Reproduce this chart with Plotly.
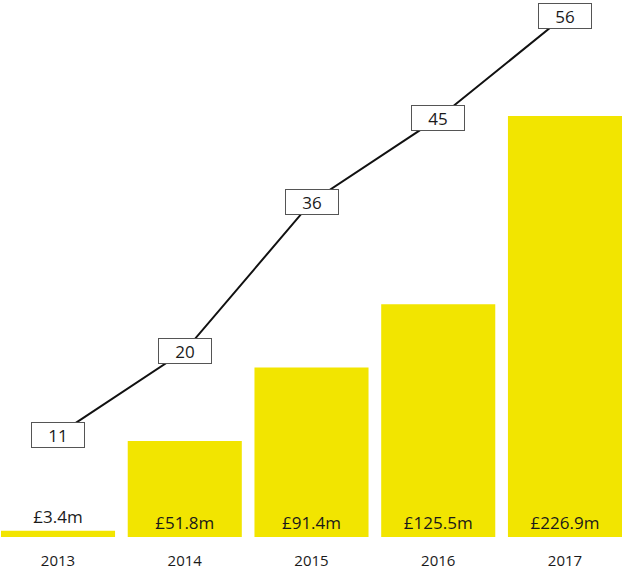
import plotly.graph_objects as go

years = ['2013', '2014', '2015', '2016', '2017']
funding = [3.4, 51.8, 91.4, 125.5, 226.9]
funding_labels = ['£3.4m', '£51.8m', '£91.4m', '£125.5m', '£226.9m']
deals = [11, 20, 36, 45, 56]

yellow = '#F2E500'

fig = go.Figure()

fig.add_trace(go.Bar(
    x=years, y=funding,
    text=funding_labels,
    textposition=['outside', 'inside', 'inside', 'inside', 'inside'],
    insidetextanchor='start',
    textfont=dict(size=17, color='#1a1a1a'),
    constraintext='none',
    marker=dict(color=yellow, line=dict(width=0)),
    width=0.9,
    cliponaxis=False,
    hoverinfo='skip',
))

fig.add_trace(go.Scatter(
    x=years, y=deals, yaxis='y2',
    mode='lines',
    line=dict(color='#111111', width=2),
    hoverinfo='skip',
))

# boxed deal counts sit on the line (category index, year strings read as numbers)
for i, d in enumerate(deals):
    fig.add_annotation(
        x=i, y=d, xref='x', yref='y2',
        text=str(d), showarrow=False,
        width=50, height=22,
        bgcolor='white', bordercolor='#555555', borderwidth=1, borderpad=1,
        font=dict(size=17, color='#1a1a1a'),
    )

hidden = dict(showgrid=False, zeroline=False, showline=False,
              showticklabels=False, ticks='')

fig.update_layout(
    width=622, height=582,
    margin=dict(l=1, r=0, t=0, b=45),
    paper_bgcolor='white', plot_bgcolor='white',
    showlegend=False,
    font=dict(family='Open Sans', color='#1a1a1a'),
    xaxis=dict(type='category', range=[-0.45, 4.45], showgrid=False,
               zeroline=False, showline=False, ticks='',
               tickfont=dict(size=15), ticklabelstandoff=13),
    yaxis=dict(range=[0, 289.5], **hidden),
    yaxis2=dict(range=[0, 57.7], overlaying='y', side='right', **hidden),
)

fig.write_html('out.html', config={'displayModeBar': False},
               post_script="document.body.style.margin='0';")
